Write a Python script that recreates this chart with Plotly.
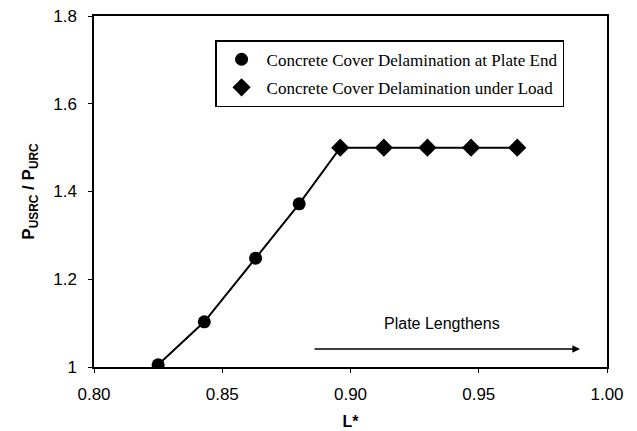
import plotly.graph_objects as go

# Data
L_end = [0.825, 0.843, 0.863, 0.880]
P_end = [1.005, 1.103, 1.248, 1.372]
L_load = [0.896, 0.913, 0.930, 0.947, 0.965]
P_load = [1.500, 1.500, 1.500, 1.500, 1.500]
x_ticks = [0.80, 0.85, 0.90, 0.95, 1.00]
x_ticklabels = ["0.80", "0.85", "0.90", "0.95", "1.00"]
y_ticks = [1.0, 1.2, 1.4, 1.6, 1.8]
y_ticklabels = ["1", "1.2", "1.4", "1.6", "1.8"]
series_names = ["Concrete Cover Delamination at Plate End",
                "Concrete Cover Delamination under Load"]

fig = go.Figure()
fig.add_trace(go.Scatter(x=L_end + L_load, y=P_end + P_load, mode="lines",
                         line=dict(color="black", width=2), showlegend=False,
                         hoverinfo="skip"))
fig.add_trace(go.Scatter(x=L_end, y=P_end, mode="markers", name=series_names[0],
                         legendgroup="a",
                         marker=dict(symbol="circle", size=13, color="black")))
fig.add_trace(go.Scatter(x=L_load, y=P_load, mode="markers", name=series_names[1],
                         legendgroup="b",
                         marker=dict(symbol="diamond", size=14, color="black")))

fig.add_annotation(x=0.9895, y=1.041, ax=0.8854, ay=1.041, xref="x", yref="y",
                   axref="x", ayref="y", text="", showarrow=True,
                   arrowhead=2, arrowsize=1.1, arrowwidth=1.4, arrowcolor="black")
fig.add_annotation(x=0.9357, y=1.100, xref="x", yref="y", text="Plate Lengthens",
                   showarrow=False, font=dict(family="Liberation Sans, Arial", size=16, color="black"))

fig.update_layout(
    width=637, height=431,
    margin=dict(l=94, r=30, t=16, b=64),
    paper_bgcolor="white", plot_bgcolor="white",
    font=dict(family="Liberation Sans, Arial", color="black"),
    legend=dict(x=0.236, y=0.931, xanchor="left", yanchor="top",
                bordercolor="black", borderwidth=1.5, bgcolor="white",
                font=dict(family="Liberation Serif, Times New Roman", size=17, color="black"),
                traceorder="grouped", tracegroupgap=3, itemwidth=40),
    xaxis=dict(range=[0.80, 1.00], tickvals=x_ticks, ticktext=x_ticklabels,
               showgrid=False, zeroline=False, showline=True, linecolor="black",
               linewidth=1.5, mirror=True, ticks="outside", ticklen=4,
               tickcolor="black", tickfont=dict(size=17), ticklabelstandoff=7,
               automargin=False,
               title=dict(text="<b>L*</b>", font=dict(size=16), standoff=13)),
    yaxis=dict(range=[1.0, 1.8], tickvals=y_ticks, ticktext=y_ticklabels,
               showgrid=False, zeroline=False, showline=True, linecolor="black",
               linewidth=1.5, mirror=True, ticks="outside", ticklen=4,
               tickcolor="black", tickfont=dict(size=17), ticklabelstandoff=8,
               automargin=False,
               title=dict(text="<b>P<sub>USRC</sub> / P<sub>URC</sub></b>",
                          font=dict(size=17), standoff=14)),
)

fig.write_html("out.html")
